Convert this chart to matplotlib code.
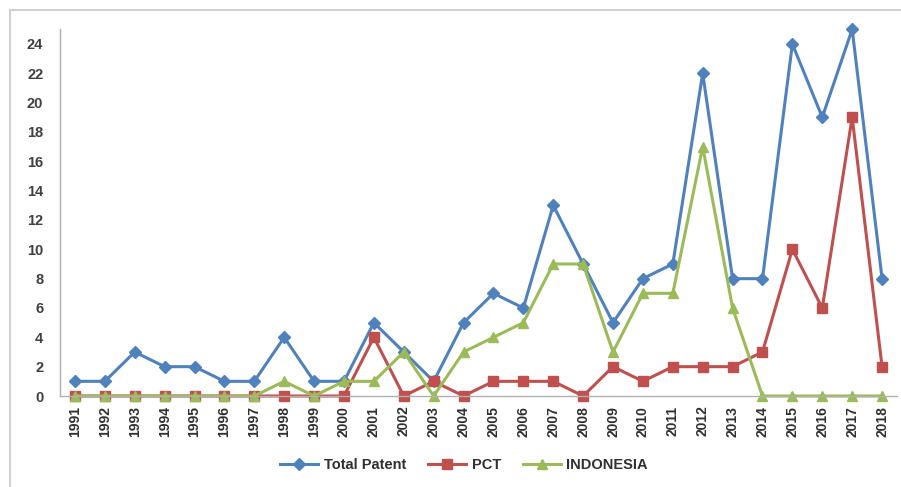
import matplotlib
matplotlib.use("Agg")
import matplotlib.pyplot as plt
from matplotlib.patches import Rectangle

years = [str(y) for y in range(1991, 2019)]
total_patent = [1, 1, 3, 2, 2, 1, 1, 4, 1, 1, 5, 3, 1, 5, 7, 6, 13, 9, 5, 8, 9, 22, 8, 8, 24, 19, 25, 8]
pct = [0, 0, 0, 0, 0, 0, 0, 0, 0, 0, 4, 0, 1, 0, 1, 1, 1, 0, 2, 1, 2, 2, 2, 3, 10, 6, 19, 2]
indonesia = [0, 0, 0, 0, 0, 0, 0, 1, 0, 1, 1, 3, 0, 3, 4, 5, 9, 9, 3, 7, 7, 17, 6, 0, 0, 0, 0, 0]
y_ticks = list(range(0, 25, 2))

plt.rcParams['font.family'] = ['Liberation Sans', 'DejaVu Sans']

W, H = 901, 487
fig = plt.figure(figsize=(W / 100, H / 100), dpi=100)

# chart frame
fig.patches.append(Rectangle((10 / W, -0.1), 1.2, (H - 10) / H + 0.1,
                             transform=fig.transFigure, fill=False,
                             edgecolor='#d0d0d0', linewidth=1.5))

ax = fig.add_axes([60 / W, (H - 396) / H, (897 - 60) / W, (396 - 29.3) / H])
x = list(range(len(years)))

ax.plot(x, total_patent, color='#4F81BD', lw=2.2, marker='D', ms=6,
        mec='#4F81BD', label='Total Patent', clip_on=False)
ax.plot(x, pct, color='#C0504D', lw=2.2, marker='s', ms=7,
        mec='#C0504D', label='PCT', clip_on=False)
ax.plot(x, indonesia, color='#9BBB59', lw=2.2, marker='^', ms=7,
        mec='#9BBB59', label='INDONESIA', clip_on=False)

ax.set_xlim(-0.5, len(years) - 0.5)
ax.set_ylim(0, 25)
ax.set_yticks(y_ticks)
ax.set_yticklabels([str(t) for t in y_ticks], fontsize=10.5, fontweight='bold', color='#404040')
ax.set_xticks(x)
ax.set_xticklabels(years, rotation=90, fontsize=10, fontweight='bold', color='#303030')
ax.tick_params(axis='both', length=0)
ax.tick_params(axis='y', pad=12)
ax.tick_params(axis='x', pad=7)

for s in ['top', 'right']:
    ax.spines[s].set_visible(False)
ax.spines['left'].set_color('#b0b0b0')
ax.spines['bottom'].set_color('#b0b0b0')
ax.spines['left'].set_linewidth(1.0)
ax.spines['bottom'].set_linewidth(1.0)

leg = fig.legend(loc='center', bbox_to_anchor=(464 / W, (H - 465) / H), ncol=3,
                 frameon=False, handlelength=2.6, handletextpad=0.4,
                 columnspacing=1.5, prop={'size': 10.5, 'weight': 'bold'})
for t in leg.get_texts():
    t.set_color('#303030')

fig.savefig('out.png', dpi=100)
